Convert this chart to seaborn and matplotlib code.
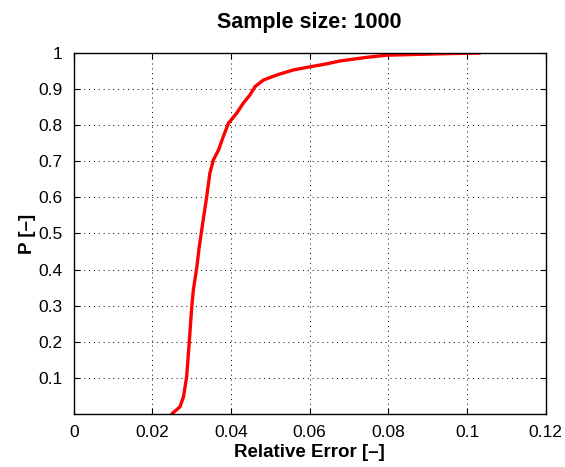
import numpy as np
import pandas as pd
import matplotlib
matplotlib.use('Agg')
import matplotlib.pyplot as plt
import seaborn as sns

rel_error = [0.0249, 0.0270, 0.0279, 0.0287, 0.0294, 0.0300, 0.0304, 0.0313, 0.0319,
             0.0329, 0.0338, 0.0346, 0.0355, 0.0368, 0.0380, 0.0393, 0.0414, 0.0431,
             0.0448, 0.0461, 0.0482, 0.0516, 0.0558, 0.0592, 0.0643, 0.0677,
             0.0745, 0.0796, 0.0940, 0.1033]
prob = [0.0, 0.020, 0.048, 0.103, 0.205, 0.297, 0.343, 0.408, 0.463,
        0.537, 0.602, 0.667, 0.704, 0.731, 0.768, 0.805, 0.833, 0.861,
        0.884, 0.907, 0.925, 0.939, 0.953, 0.960, 0.970, 0.978,
        0.988, 0.994, 0.998, 1.0]

xticks = [0, 0.02, 0.04, 0.06, 0.08, 0.1, 0.12]
xtick_labels = ['0', '0.02', '0.04', '0.06', '0.08', '0.1', '0.12']
yticks = [0.1, 0.2, 0.3, 0.4, 0.5, 0.6, 0.7, 0.8, 0.9, 1.0]
ytick_labels = ['0.1', '0.2', '0.3', '0.4', '0.5', '0.6', '0.7', '0.8', '0.9', '1']

df = pd.DataFrame({'err': rel_error, 'P': prob})

sns.set_style('white')
plt.rcParams['font.family'] = ['Liberation Sans', 'DejaVu Sans']
plt.rcParams['text.color'] = 'black'
plt.rcParams['axes.labelcolor'] = 'black'

fig = plt.figure(figsize=(5.65, 4.67), dpi=100)
ax = fig.add_axes([0.1306, 0.1135, 0.8352, 0.773])

sns.lineplot(data=df, x='err', y='P', color='red', linewidth=2.4, ax=ax, estimator=None, sort=False)

ax.set_xlim(0, 0.12)
ax.set_ylim(0, 1)
ax.set_xticks(xticks)
ax.set_xticklabels(xtick_labels)
ax.set_yticks(yticks)
ax.set_yticklabels(ytick_labels)
ax.tick_params(direction='in', length=4, width=0.8, labelsize=12.5, colors='black',
               top=True, right=True, bottom=True, left=True, pad=8)
ax.grid(True, linestyle=(0, (1, 4)), color='black', linewidth=0.7)
for s in ax.spines.values():
    s.set_color('black')
    s.set_linewidth(1.0)

ax.set_xlabel('Relative Error [–]', fontsize=13.5, fontweight='bold', labelpad=3)
ax.set_ylabel('P [–]', fontsize=13.5, fontweight='bold', labelpad=2)
ax.set_title('Sample size: 1000', fontsize=15.5, fontweight='bold', pad=18, color='black')

fig.savefig('out.png', dpi=100)
